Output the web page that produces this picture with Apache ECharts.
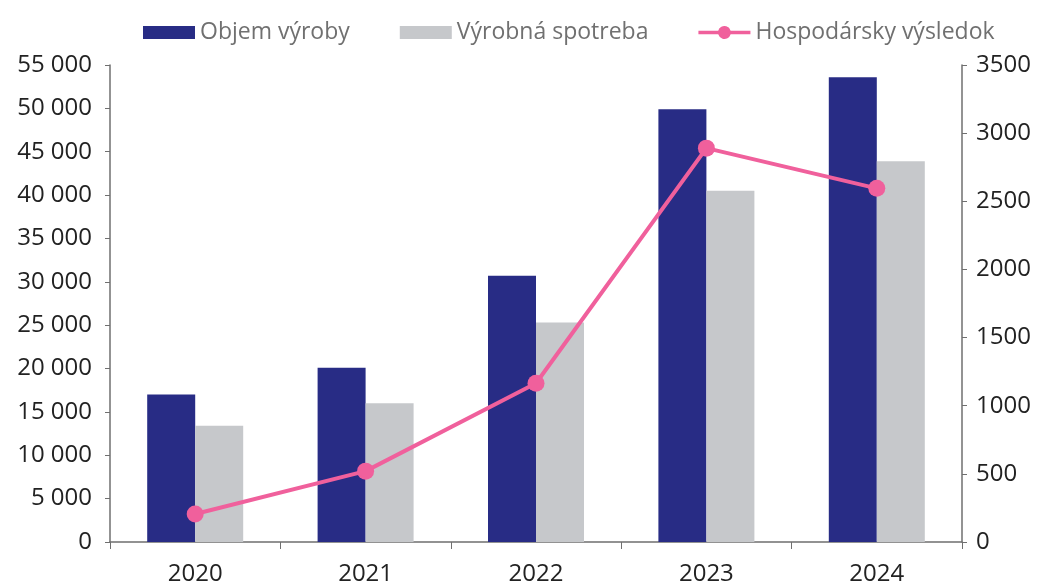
<!DOCTYPE html>
<html>
<head>
<meta charset="utf-8">
<script src="https://cdn.jsdelivr.net/npm/echarts@6/dist/echarts.min.js"></script>
<style>html,body{margin:0;padding:0;background:#fff}#c{width:1045px;height:584px}</style>
</head>
<body>
<div id="c"></div>
<script>
const categories = ['2020', '2021', '2022', '2023', '2024'];
const objemVyroby = [17000, 20100, 30700, 49900, 53600];
const vyrobnaSpotreba = [13400, 16000, 25300, 40500, 43900];
const hospVysledok = [205, 520, 1165, 2890, 2595];
const leftTicks = { min: 0, max: 55000, interval: 5000 };
const rightTicks = { min: 0, max: 3500, interval: 500 };

const fmt = v => String(v).replace(/\B(?=(\d{3})+(?!\d))/g, ' ');
const FONT = 'Open Sans';
const lineIcon = 'path://M0,5H21.3A7,7 0 0,1 34.7,5H56V9H34.7A7,7 0 0,1 21.3,9H0Z';

const chart = echarts.init(document.getElementById('c'), null, { renderer: 'canvas' });
chart.setOption({
  animation: false,
  textStyle: { fontFamily: FONT },
  legend: {
    top: 21, left: 143, padding: 0,
    itemWidth: 52, itemHeight: 13, itemGap: 50,
    textStyle: { fontSize: 23, color: '#707070', fontFamily: FONT },
    data: [
      { name: 'Objem výroby', icon: 'rect' },
      { name: 'Výrobná spotreba', icon: 'rect' },
      { name: 'Hospodársky výsledok', icon: lineIcon }
    ]
  },
  grid: { left: 110, right: 83, top: 65, bottom: 42, containLabel: false, outerBoundsMode: 'none' },
  xAxis: {
    type: 'category', data: categories, boundaryGap: true,
    axisLine: { lineStyle: { color: '#6f6f6f', width: 1.5 } },
    axisTick: { show: true, length: 7, alignWithLabel: false, lineStyle: { color: '#6f6f6f' } },
    axisLabel: { fontSize: 24, color: '#222', margin: 20, fontFamily: FONT }
  },
  yAxis: [
    {
      type: 'value', min: leftTicks.min, max: leftTicks.max, interval: leftTicks.interval,
      axisLine: { show: true, lineStyle: { color: '#6f6f6f', width: 1.5 } },
      axisTick: { show: true, length: 5, lineStyle: { color: '#6f6f6f' } },
      splitLine: { show: false },
      axisLabel: { fontSize: 24, color: '#222', margin: 18, formatter: fmt, fontFamily: FONT }
    },
    {
      type: 'value', min: rightTicks.min, max: rightTicks.max, interval: rightTicks.interval,
      position: 'right',
      axisLine: { show: true, lineStyle: { color: '#6f6f6f', width: 1.5 } },
      axisTick: { show: true, length: 5, lineStyle: { color: '#6f6f6f' } },
      splitLine: { show: false },
      axisLabel: { fontSize: 24, color: '#222', margin: 14, formatter: v => String(v), fontFamily: FONT }
    }
  ],
  series: [
    {
      name: 'Objem výroby', type: 'bar', data: objemVyroby, yAxisIndex: 0,
      barWidth: 48, barGap: '0%',
      itemStyle: { color: '#282c85' }
    },
    {
      name: 'Výrobná spotreba', type: 'bar', data: vyrobnaSpotreba, yAxisIndex: 0,
      barWidth: 48, barGap: '0%',
      itemStyle: { color: '#c6c8cb' }
    },
    {
      name: 'Hospodársky výsledok', type: 'line', data: hospVysledok, yAxisIndex: 1,
      symbol: 'circle', symbolSize: 17,
      lineStyle: { color: '#f0609c', width: 4 },
      itemStyle: { color: '#f0609c' },
      z: 5
    }
  ]
});
</script>
</body>
</html>
